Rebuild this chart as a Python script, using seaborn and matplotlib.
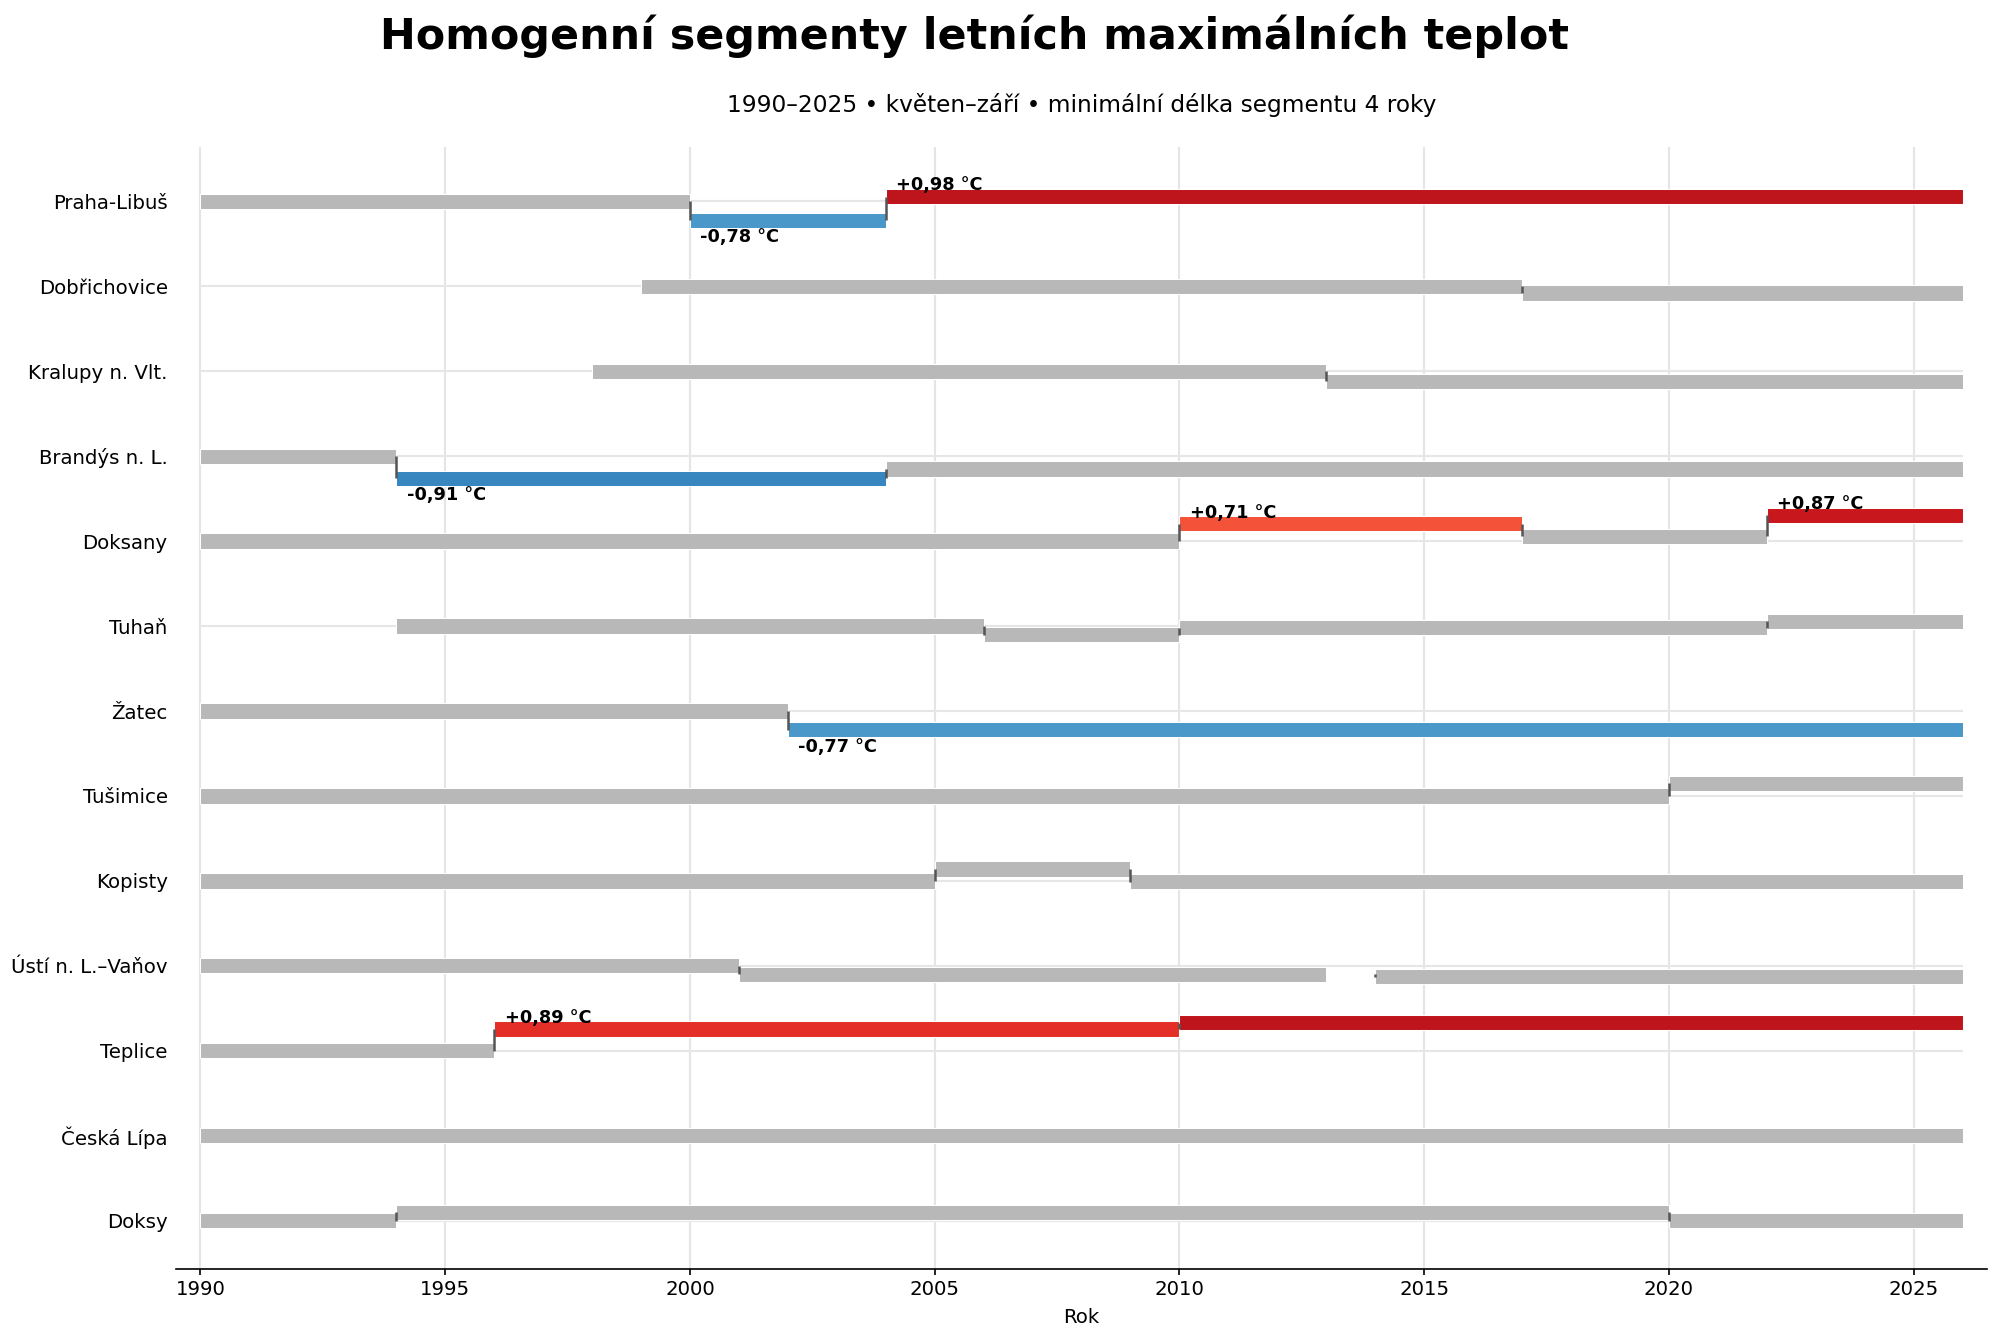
import matplotlib
matplotlib.use("Agg")
import matplotlib.pyplot as plt
import seaborn as sns

# stations, top to bottom
stations = ["Praha-Libuš", "Dobřichovice", "Kralupy n. Vlt.", "Brandýs n. L.", "Doksany",
            "Tuhaň", "Žatec", "Tušimice", "Kopisty", "Ústí n. L.–Vaňov", "Teplice",
            "Česká Lípa", "Doksy"]

# homogeneous segments: station, first year, end year, level vs. first segment (°C)
seg_station = ["Praha-Libuš", "Praha-Libuš", "Praha-Libuš",
               "Dobřichovice", "Dobřichovice",
               "Kralupy n. Vlt.", "Kralupy n. Vlt.",
               "Brandýs n. L.", "Brandýs n. L.", "Brandýs n. L.",
               "Doksany", "Doksany", "Doksany", "Doksany",
               "Tuhaň", "Tuhaň", "Tuhaň", "Tuhaň",
               "Žatec", "Žatec",
               "Tušimice", "Tušimice",
               "Kopisty", "Kopisty", "Kopisty",
               "Ústí n. L.–Vaňov", "Ústí n. L.–Vaňov", "Ústí n. L.–Vaňov",
               "Teplice", "Teplice", "Teplice",
               "Česká Lípa",
               "Doksy", "Doksy", "Doksy"]
seg_start = [1990, 2000, 2004,
             1999, 2017,
             1998, 2013,
             1990, 1994, 2004,
             1990, 2010, 2017, 2022,
             1994, 2006, 2010, 2022,
             1990, 2002,
             1990, 2020,
             1990, 2005, 2009,
             1990, 2001, 2014,
             1990, 1996, 2010,
             1990,
             1990, 1994, 2020]
seg_end = [2000, 2004, 2026,
           2017, 2026,
           2013, 2026,
           1994, 2004, 2026,
           2010, 2017, 2022, 2026,
           2006, 2010, 2022, 2026,
           2002, 2026,
           2020, 2026,
           2005, 2009, 2026,
           2001, 2013, 2026,
           1996, 2010, 2026,
           2026,
           1994, 2020, 2026]
seg_level = [0.00, -0.78, 0.20,
             0.00, -0.27,
             0.00, -0.41,
             0.00, -0.91, -0.52,
             0.00, 0.71, 0.19, 1.06,
             0.00, -0.35, -0.07, 0.20,
             0.00, -0.77,
             0.00, 0.52,
             0.00, 0.48, -0.03,
             0.00, -0.35, -0.44,
             0.00, 0.89, 1.14,
             0.00,
             0.00, 0.34, 0.00]
# significant shifts (labelled), None = not significant
seg_shift = [None, -0.78, 0.98,
             None, None,
             None, None,
             None, -0.91, None,
             None, 0.71, None, 0.87,
             None, None, None, None,
             None, -0.77,
             None, None,
             None, None, None,
             None, None, None,
             None, 0.89, None,
             None,
             None, None, None]

# colours of segments
GRAY = "#b8b8b8"
seg_color = [GRAY, "#4a98c9", "#bd151b",
             GRAY, GRAY,
             GRAY, GRAY,
             GRAY, "#3786c0", GRAY,
             GRAY, "#f5523a", GRAY, "#c9181d",
             GRAY, GRAY, GRAY, GRAY,
             GRAY, "#4a98c9",
             GRAY, GRAY,
             GRAY, GRAY, GRAY,
             GRAY, GRAY, GRAY,
             GRAY, "#e32f27", "#bd151b",
             GRAY,
             GRAY, GRAY, GRAY]

K = 0.288        # rows per °C of level shift
BAR_H = 0.18

sns.set_theme(style="whitegrid")
plt.rcParams["font.family"] = ["DejaVu Sans"]
plt.rcParams.update({"text.color": "black", "axes.labelcolor": "black",
                     "xtick.color": "black", "ytick.color": "black"})

fig, ax = plt.subplots(figsize=(2000 / 150, 1343 / 150), dpi=150)
fig.subplots_adjust(left=0.088, right=0.9935, top=0.8905, bottom=0.0551)

row = {s: i for i, s in enumerate(stations)}

# light baseline for each station
ax.hlines(range(len(stations)), 1990, 2026, color="#e6e6e6", lw=1.0, zorder=1)

prev = {}
for st, a, b, lev, sh, col in zip(seg_station, seg_start, seg_end, seg_level, seg_shift, seg_color):
    y = row[st] - lev * K
    ax.barh(y, b - a, left=a, height=BAR_H, color=col, edgecolor="white", linewidth=0.5, zorder=2)
    if st in prev:
        ax.vlines(a, prev[st], y, color="#555555", lw=1.2, zorder=3)
    prev[st] = y
    if sh is not None:
        txt = ("+" if sh > 0 else "-") + f"{abs(sh):.2f}".replace(".", ",") + " °C"
        if sh > 0:
            ax.annotate(txt, (a, y), xytext=(5, 3), textcoords="offset points",
                        ha="left", va="baseline", fontsize=8.5, fontweight="bold", zorder=4)
        else:
            ax.annotate(txt, (a, y), xytext=(5, -3.8), textcoords="offset points",
                        ha="left", va="top", fontsize=8.5, fontweight="bold", zorder=4)

ax.set_xlim(1989.5, 2026.5)
ax.set_ylim(len(stations) - 1 + 0.57, -0.64)
ax.set_xticks(range(1990, 2026, 5))
ax.set_yticks(range(len(stations)))
ax.set_yticklabels(stations)
ax.grid(axis="y", visible=False)
ax.grid(axis="x", color="#e5e5e5", lw=1.0)
ax.set_axisbelow(True)
sns.despine(ax=ax, left=True)
ax.spines["bottom"].set_color("black")
ax.spines["bottom"].set_linewidth(0.8)
ax.tick_params(axis="x", bottom=True, length=3, width=0.8, color="black", labelsize=9.5, pad=2.5)
ax.tick_params(axis="y", left=False, length=0, labelsize=9.5, pad=4)
ax.set_xlabel("Rok", fontsize=9.5, labelpad=4)

ax.set_title("1990–2025 • květen–září • minimální délka segmentu 4 roky", fontsize=11.2, pad=17)
fig.suptitle("Homogenní segmenty letních maximálních teplot", x=0.4875, y=0.989,
             fontsize=20.6, fontweight="bold", va="top")

fig.savefig("out.png", dpi=150)
